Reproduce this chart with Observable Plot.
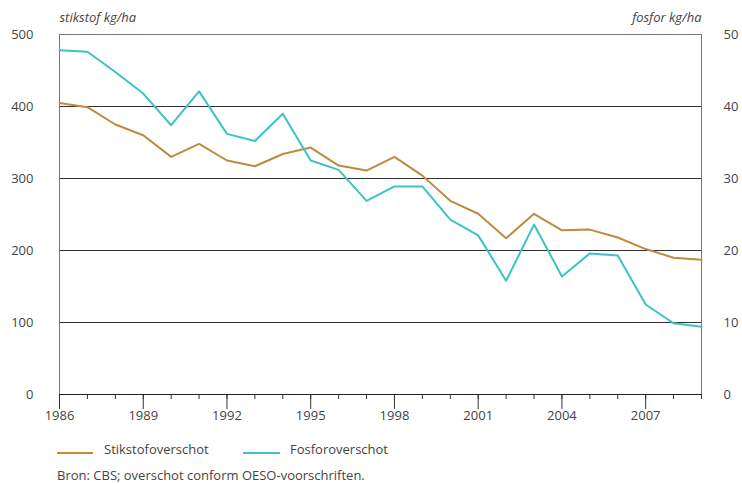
<!DOCTYPE html>
<html>
<head>
<meta charset="utf-8">
<script src="https://cdn.jsdelivr.net/npm/d3@7"></script>
<script src="https://cdn.jsdelivr.net/npm/@observablehq/plot@0.6"></script>
<style>
  body { margin: 0; background: #fff; font-family: "Open Sans", sans-serif; color: #444; }
  #wrap { position: relative; width: 742px; height: 484px; }
  .leg { position: absolute; font-size: 13px; line-height: 16px; white-space: nowrap; }
  .sw { position: absolute; height: 2px; }
</style>
</head>
<body>
<div id="wrap">
  <div id="chart"></div>
  <div class="sw" style="left:57px; top:452px; width:36px; background:#c08a3c"></div>
  <div class="leg" style="left:104px; top:441px">Stikstofoverschot</div>
  <div class="sw" style="left:243px; top:452px; width:37px; background:#3cc3c8"></div>
  <div class="leg" style="left:290px; top:441px">Fosforoverschot</div>
  <div class="leg" style="left:57px; top:467px">Bron: CBS; overschot conform OESO-voorschriften.</div>
</div>
<script>
const years = [1986,1987,1988,1989,1990,1991,1992,1993,1994,1995,1996,1997,1998,1999,2000,2001,2002,2003,2004,2005,2006,2007,2008,2009];
const labelYears = [1986,1989,1992,1995,1998,2001,2004,2007];
const stikstof = [405,399,375,360,330,348,325,317,334,343,318,311,330,304,269,251,217,251,228,229,218,202,190,187];
const fosfor = [47.8,47.6,44.8,41.8,37.4,42.1,36.2,35.2,39.0,32.5,31.2,26.9,28.9,28.9,24.3,22.1,15.8,23.6,16.4,19.6,19.3,12.5,9.9,9.4];
const leftTicks = [0,100,200,300,400,500];
const rightTicks = [0,10,20,30,40,50];

const data = years.map((y, i) => ({year: y, n: stikstof[i], p: fosfor[i]}));

const chart = Plot.plot({
  width: 742,
  height: 430,
  marginTop: 34,
  marginBottom: 36,
  marginLeft: 59,
  marginRight: 41,
  x: {domain: [1986, 2009]},
  y: {domain: [0, 500]},
  style: {fontFamily: "Open Sans, sans-serif", fontSize: "13px", color: "#444", background: "#fff"},
  marks: [
    Plot.gridY([100, 200, 300, 400], {stroke: "#333", strokeOpacity: 1}),
    Plot.ruleY([500], {stroke: "#777"}),
    Plot.ruleX([1986, 2009], {stroke: "#777"}),
    Plot.axisY({ticks: leftTicks, tickSize: 0, tickPadding: 26, label: null}),
    Plot.axisY({anchor: "right", ticks: rightTicks.map(d => d * 10), tickFormat: d => d / 10, tickSize: 0, tickPadding: 22, label: null}),
    Plot.axisX({ticks: years, tickSize: 5, tickFormat: () => "", label: null, stroke: "#333"}),
    Plot.axisX({ticks: labelYears, tickSize: 15, tickFormat: "d", tickPadding: 1, label: null, stroke: "#333"}),
    Plot.ruleY([0], {stroke: "#222"}),
    Plot.line(data, {x: "year", y: "n", stroke: "#c08a3c", strokeWidth: 2}),
    Plot.line(data, {x: "year", y: d => d.p * 10, stroke: "#3cc3c8", strokeWidth: 2}),
    Plot.text(["stikstof kg/ha"], {frameAnchor: "top-left", dy: -17, lineAnchor: "middle", textAnchor: "start", fontStyle: "italic", fill: "#444"}),
    Plot.text(["fosfor kg/ha"], {frameAnchor: "top-right", dy: -17, lineAnchor: "middle", textAnchor: "end", fontStyle: "italic", fill: "#444"})
  ]
});
document.getElementById("chart").appendChild(chart);
</script>
</body>
</html>
